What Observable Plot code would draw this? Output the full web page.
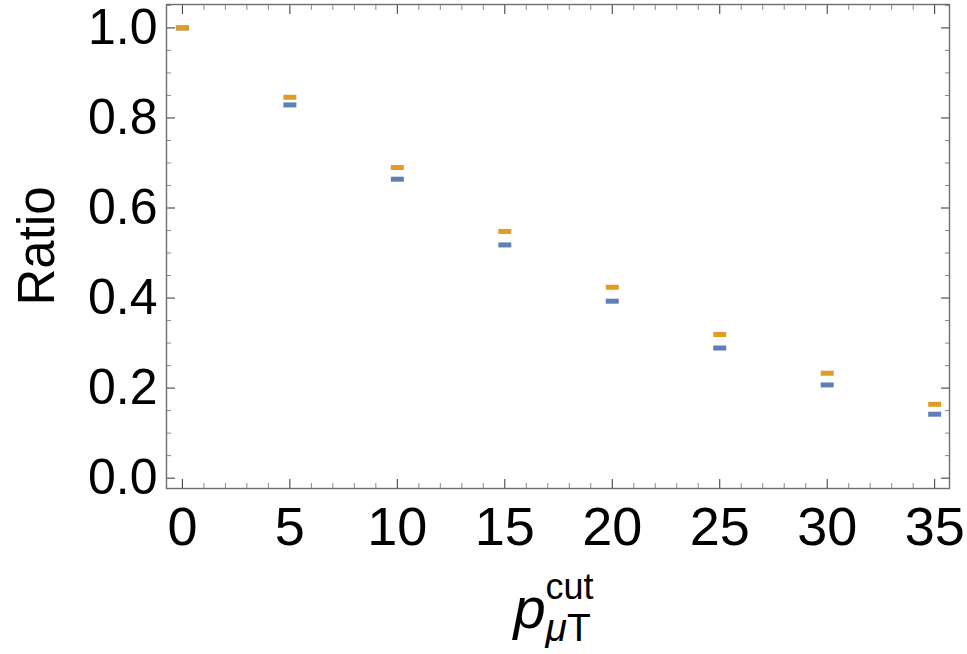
<!DOCTYPE html>
<html><head><meta charset="utf-8">
<script src="https://cdn.jsdelivr.net/npm/d3@7"></script>
<script src="https://cdn.jsdelivr.net/npm/@observablehq/plot@0.6"></script>
<style>body{margin:0;background:#fff}</style>
</head><body><div id="chart"></div>
<script>
// data
const cuts = [0, 5, 10, 15, 20, 25, 30, 35];
const ratioBlue = [1.0, 0.829, 0.664, 0.518, 0.393, 0.289, 0.207, 0.142];
const ratioOrange = [1.0, 0.846, 0.690, 0.548, 0.424, 0.319, 0.233, 0.164];
const seriesNames = ["series1", "series2"];
const seriesColors = ["#5E81B5", "#E19C24"];
const xMajor = [0, 5, 10, 15, 20, 25, 30, 35];
const xMinor = [1,2,3,4,6,7,8,9,11,12,13,14,16,17,18,19,21,22,23,24,26,27,28,29,31,32,33,34];
const yMajor = [0, 0.2, 0.4, 0.6, 0.8, 1.0];
const yMinor = [0.05,0.1,0.15,0.25,0.3,0.35,0.45,0.5,0.55,0.65,0.7,0.75,0.85,0.9,0.95,1.05];

const rows = [];
cuts.forEach((c, i) => {
  rows.push({cut: c, ratio: ratioBlue[i], s: seriesNames[0]});
});
cuts.forEach((c, i) => {
  rows.push({cut: c, ratio: ratioOrange[i], s: seriesNames[1]});
});

const dash = {draw(ctx) { ctx.rect(-6.5, -2.5, 13, 5); }};

const W = 967, H = 654, mL = 166, mR = 18, mT = 4, mB = 166;
const tickGray = "#8a8a8a", tickDark = "#333";

const svg = Plot.plot({
  width: W, height: H,
  marginLeft: mL, marginRight: mR, marginTop: mT, marginBottom: mB,
  style: {fontFamily: "'Liberation Sans', Arial, sans-serif", background: "#fff", color: "#000"},
  x: {domain: [-0.74, 35.69]},
  y: {domain: [-0.023, 1.052]},
  color: {domain: seriesNames, range: seriesColors},
  marks: [
    // minor ticks (inward) on all four sides
    Plot.axisX({ticks: xMinor, anchor: "bottom", tickSize: -5, tickFormat: () => "", label: null, stroke: tickGray}),
    Plot.axisX({ticks: xMinor, anchor: "top", tickSize: -5, tickFormat: () => "", label: null, stroke: tickGray}),
    Plot.axisY({ticks: yMinor, anchor: "left", tickSize: -5, tickFormat: () => "", label: null, stroke: tickGray}),
    Plot.axisY({ticks: yMinor, anchor: "right", tickSize: -5, tickFormat: () => "", label: null, stroke: tickGray}),
    // major ticks
    Plot.axisX({ticks: xMajor, anchor: "bottom", tickSize: -9, tickFormat: () => "", label: null, stroke: tickDark}),
    Plot.axisX({ticks: xMajor, anchor: "top", tickSize: -9, tickFormat: () => "", label: null, stroke: tickDark}),
    Plot.axisY({ticks: yMajor, anchor: "left", tickSize: -9, tickFormat: () => "", label: null, stroke: tickDark}),
    Plot.axisY({ticks: yMajor, anchor: "right", tickSize: -9, tickFormat: () => "", label: null, stroke: tickDark}),
    // tick labels
    Plot.axisX({ticks: xMajor, anchor: "bottom", tickSize: 0, tickPadding: 18, fontSize: 54, label: null, tickFormat: d => String(d)}),
    Plot.axisY({ticks: yMajor, anchor: "left", tickSize: 0, tickPadding: 9, fontSize: 50, label: null, tickFormat: d3.format(".1f")}),
    Plot.frame({stroke: "#6e6e6e", strokeWidth: 1.4}),
    Plot.dot(rows, {x: "cut", y: "ratio", fill: "s", symbol: dash, r: 5, stroke: null})
  ]
});

const s = d3.select(svg);
const ff = "'Liberation Sans', Arial, sans-serif";
// y axis title
const cy = (mT + (H - mB)) / 2;
s.append("text")
  .attr("transform", `translate(54,${cy}) rotate(-90)`)
  .attr("text-anchor", "middle")
  .attr("font-family", ff).attr("font-size", 51).attr("fill", "#000")
  .text("Ratio");
// x axis title: p_{μT}^{cut} as a single text element
const cx = (mL + (W - mR)) / 2;
const t = s.append("text").attr("font-family", ff).attr("fill", "#000").attr("text-anchor", "start")
  .attr("x", cx - 44).attr("y", 628);
t.append("tspan").attr("font-size", 58).attr("font-style", "italic").text("p");
t.append("tspan").attr("x", cx - 12).attr("y", 599).attr("font-size", 36).text("cut");
t.append("tspan").attr("x", cx - 12).attr("y", 641).attr("font-size", 39).attr("font-style", "italic").text("μ");
t.append("tspan").attr("font-size", 39).text("T");

document.getElementById("chart").appendChild(svg);
</script>
</body></html>
